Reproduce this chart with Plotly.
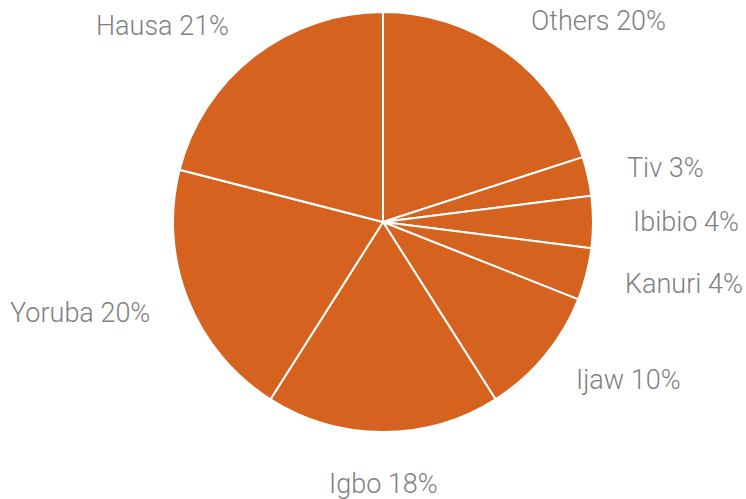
import math
import plotly.graph_objects as go

labels = ["Others", "Tiv", "Ibibio", "Kanuri", "Ijaw", "Igbo", "Yoruba", "Hausa"]
values = [20, 3, 4, 4, 10, 18, 20, 21]

W, H = 746, 499
cx, cy, r = 383, 222, 210
label_gap = 38
fsize = 27
font = dict(family="Roboto", size=fsize, color="#7F7F7F", weight=300)

fig = go.Figure(go.Pie(
    labels=labels,
    values=values,
    sort=False,
    direction="clockwise",
    rotation=0,
    marker=dict(colors=["#D5621F"] * len(labels), line=dict(color="white", width=2)),
    textinfo="none",
    hoverinfo="label+value",
    showlegend=False,
    domain=dict(x=[(cx - r) / W, (cx + r) / W], y=[(H - cy - r) / H, (H - cy + r) / H]),
))

# outside labels placed along each slice's bisector
total = sum(values)
cum = 0
R = r + label_gap
for lab, v in zip(labels, values):
    mid = (cum + v / 2) / total * 2 * math.pi
    cum += v
    s, c = math.sin(mid), math.cos(mid)
    px = cx + R * s
    py = cy - R * c
    if s > 0.2:
        xa = "left"
    elif s < -0.2:
        xa = "right"
    else:
        xa = "center"
        py += (-c) * fsize * 0.5
    fig.add_annotation(
        x=px / W, y=1 - py / H, xref="paper", yref="paper",
        text=f"{lab} {v}%", showarrow=False,
        xanchor=xa, yanchor="middle", font=font,
    )

fig.update_layout(
    width=W, height=H,
    margin=dict(l=0, r=0, t=0, b=0),
    paper_bgcolor="white",
    plot_bgcolor="white",
)

fig.write_html("out.html", config={"displayModeBar": False},
               post_script="document.body.style.margin='0';")
